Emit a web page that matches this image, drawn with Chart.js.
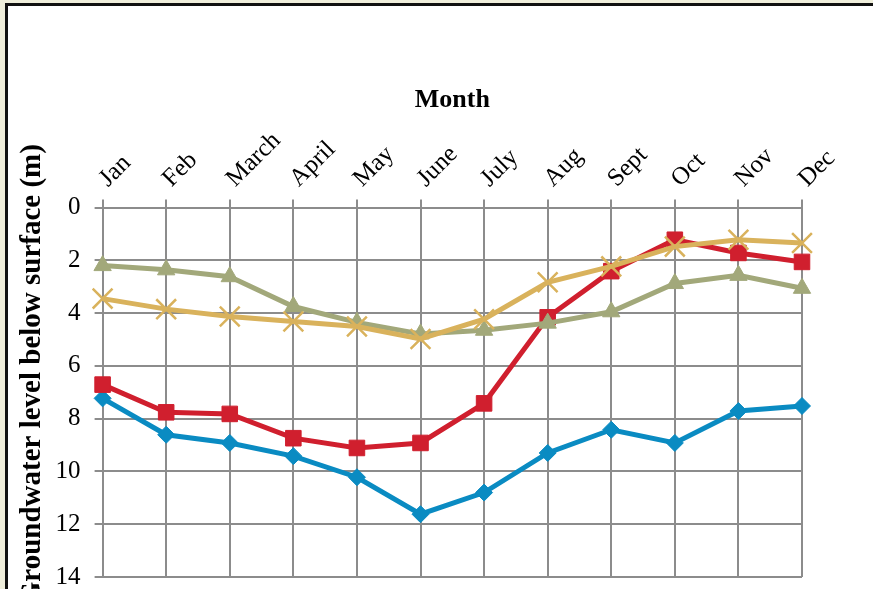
<!DOCTYPE html>
<html>
<head>
<meta charset="utf-8">
<script src="https://cdn.jsdelivr.net/npm/chart.js@4/dist/chart.umd.min.js"></script>
<style>
  html, body { margin: 0; padding: 0; width: 873px; height: 589px; overflow: hidden; background: #efeedb; }
  #frame { position: absolute; left: 5px; top: 3px; width: 1000px; height: 1000px; border: 3px solid #111; background: #fff; }
  #wrap { position: absolute; left: 0; top: 0; width: 873px; height: 640px; }
</style>
</head>
<body>
<div id="frame"></div>
<div id="wrap"><canvas id="c" width="873" height="640"></canvas></div>
<script>
const months = ['Jan','Feb','March','April','May','June','July','Aug','Sept','Oct','Nov','Dec'];
const yTicks = [0, 2, 4, 6, 8, 10, 12, 14];
const seriesBlue   = [7.23, 8.61, 8.92, 9.42, 10.22, 11.62, 10.80, 9.30, 8.42, 8.92, 7.71, 7.52];
const seriesRed    = [6.71, 7.76, 7.82, 8.74, 9.11, 8.92, 7.42, 4.16, 2.41, 1.22, 1.72, 2.06];
const seriesGreen  = [2.20, 2.36, 2.62, 3.75, 4.35, 4.79, 4.65, 4.38, 3.95, 2.88, 2.57, 3.06];
const seriesYellow = [3.45, 3.85, 4.13, 4.32, 4.51, 4.98, 4.23, 2.83, 2.23, 1.48, 1.22, 1.34];

const serif = "'Liberation Serif', 'Times New Roman', serif";

const ds = (data, color, style, radius, order, bw) => ({
  data, borderColor: color, backgroundColor: color,
  pointBackgroundColor: color, pointBorderColor: color,
  pointStyle: style, pointRadius: radius, pointHoverRadius: radius,
  pointBorderWidth: bw, borderWidth: 5, tension: 0, order
});

new Chart(document.getElementById('c'), {
  type: 'line',
  data: {
    labels: months,
    datasets: [
      ds(seriesBlue, '#0a8bc2', 'rectRot', 8.5, 4, 1),
      ds(seriesRed, '#d01f2e', 'rect', 11, 3, 1),
      ds(seriesGreen, '#a2a87a', 'triangle', 10, 2, 1),
      ds(seriesYellow, '#d9b25c', 'crossRot', 14, 1, 2.5)
    ]
  },
  options: {
    responsive: false,
    animation: false,
    layout: { padding: { top: 85, left: 12, right: 71, bottom: 63 } },
    plugins: { legend: { display: false }, tooltip: { enabled: false } },
    scales: {
      x: {
        position: 'top',
        offset: false,
        grid: { color: '#8c8c8c', lineWidth: 2, tickLength: 8, drawTicks: true },
        border: { color: '#8c8c8c', width: 2 },
        ticks: { color: '#000', font: { family: serif, size: 25 }, minRotation: 45, maxRotation: 45, padding: 6, labelOffset: 22 },
        title: { display: true, text: 'Month', color: '#000', font: { family: serif, size: 26, weight: 'bold' }, padding: { top: 0, bottom: 4 } }
      },
      y: {
        reverse: true,
        min: 0, max: 14,
        afterBuildTicks: (s) => { s.ticks = yTicks.map(v => ({ value: v })); },
        grid: { color: '#8c8c8c', lineWidth: 2, tickLength: 8 },
        border: { color: '#8c8c8c', width: 2 },
        ticks: { color: '#000', font: { family: serif, size: 25 }, padding: 14 },
        title: { display: true, text: '     Groundwater level below surface (m)', color: '#000', font: { family: serif, size: 29, weight: 'bold' }, padding: { top: 3.6, bottom: -8.8 } }
      }
    }
  }
});
</script>
</body>
</html>
